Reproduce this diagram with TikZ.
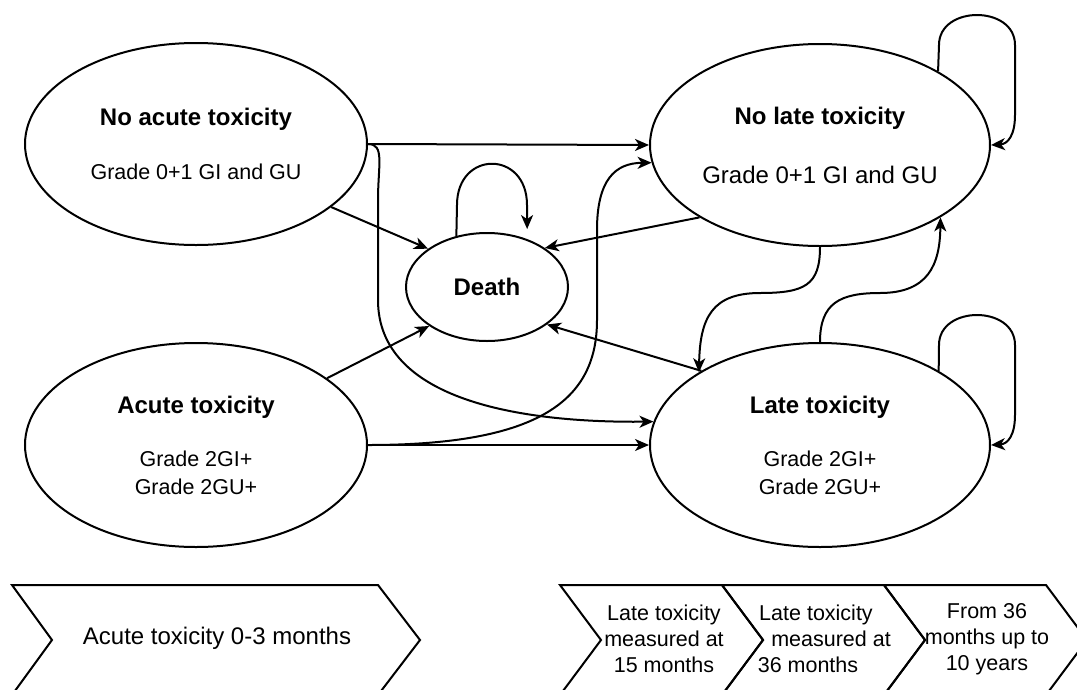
\documentclass[tikz,border=0pt]{standalone}
\usepackage{fontspec}
\setmainfont{Liberation Sans}
\usetikzlibrary{shapes.geometric,arrows.meta}
\newcommand{\heading}[1]{{\fontsize{24}{28}\selectfont\bfseries #1}}
\begin{document}
\begin{tikzpicture}[x=1pt, y=-1pt,
	state/.style={draw, ellipse, line width=2pt, inner sep=0pt, align=center, font=\fontsize{21.5}{28}\selectfont},
	link/.style={line width=2pt, -{Stealth[length=14pt, width=12pt, inset=4pt]}},
	phase/.style={draw, line width=2pt, line join=miter},
	phasetext/.style={align=center, font=\fontsize{21.5}{26}\selectfont}]
	\useasboundingbox (0,0) rectangle (1077,689);

	\node[state, minimum width=342, minimum height=202] at (196,144) (noacute) {\heading{No acute toxicity}\\[26pt]Grade 0+1 GI and GU};
	\node[state, minimum width=342, minimum height=204] at (196,445) (acute) {\heading{Acute toxicity}\\[25pt]Grade 2GI+\\Grade 2GU+};
	\node[state, minimum width=162, minimum height=108] at (487,287) (death) {\heading{Death}};
	\node[state, minimum width=340, minimum height=202] at (820,145) (nolate) {\heading{No late toxicity}\\[31pt]{\fontsize{24}{28}\selectfont Grade 0+1 GI and GU}};
	\node[state, minimum width=340, minimum height=204] at (820,445) (late) {\heading{Late toxicity}\\[25pt]Grade 2GI+\\Grade 2GU+};

	\path
	(noacute.east) edge[link] (nolate.west)
	(acute.east) edge[link] (late.west)
	(noacute.-25) edge[link] (death.147)
	(acute.27) edge[link] (death.-146)
	(nolate.-149) edge[link] (death.34)
	(late.148) edge[link] (death.-32);

	\draw[link] (noacute.east) .. controls (385,144) and (378,165) .. (378,200) -- (378,300) .. controls (378,400) and (520,423) .. (late.172);
	\draw[link] (acute.east) .. controls (540,445) and (597,400) .. (597,320) -- (597,230) .. controls (597,180) and (615,163) .. (nolate.186);
	\draw[link] (nolate.south) .. controls (820,285) and (805,293) .. (760,293) .. controls (712,293) and (700,318) .. (late.149);
	\draw[link] (late.north) .. controls (820,303) and (840,293) .. (880,293) .. controls (928,293) and (940,265) .. (nolate.-31);

	\draw[link, shorten >=10pt] (death.121) -- (457,205) .. controls (457,150) and (527,150) .. (527,205) -- (death.50);
	\draw[link] (nolate.32) -- (939,45) .. controls (939,5) and (1015,5) .. (1015,45) -- (1015,115) .. controls (1015,135) and (1008,144) .. (nolate.east);
	\draw[link] (late.32) -- (939,345) .. controls (939,305) and (1015,305) .. (1015,345) -- (1015,415) .. controls (1015,435) and (1008,444) .. (late.east);

	\begin{scope}
		\clip (0,0) rectangle (1077,689);
		\draw[phase] (12,585) -- (378,585) -- (420,640) -- (378,695) -- (12,695) -- (52,640) -- cycle;
		\draw[phase] (560,585) -- (722,585) -- (763,640) -- (722,695) -- (560,695) -- (601,640) -- cycle;
		\draw[phase] (722,585) -- (884,585) -- (925,640) -- (884,695) -- (722,695) -- (763,640) -- cycle;
		\draw[phase] (884,585) -- (1046,585) -- (1087,640) -- (1046,695) -- (884,695) -- (925,640) -- cycle;
	\end{scope}

	\node[phasetext, font=\fontsize{24}{28}\selectfont] at (217,638) (acutephase) {Acute toxicity 0-3 months};
	\node[phasetext] at (664,639) (phase15) {Late toxicity\\measured at\\15 months};
	\node[phasetext] at (816,639) (phase36) {Late toxicity\\\hspace*{30pt}measured at\\36 months\hspace*{16pt}};
	\node[phasetext] at (987,639) (phase10) {From 36\\months up to\\10 years};
\end{tikzpicture}
\end{document}
